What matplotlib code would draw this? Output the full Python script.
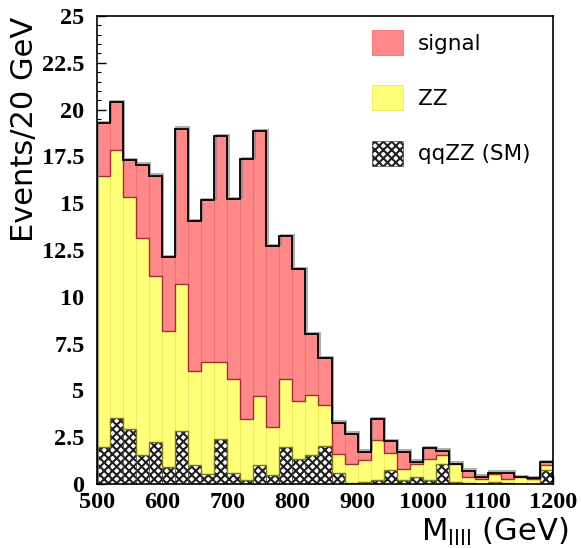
import numpy as np
import matplotlib
matplotlib.use("Agg")
import matplotlib.pyplot as plt
import matplotlib.patheffects as pe
from matplotlib.ticker import MultipleLocator, FormatStrFormatter

# ---- data (20 GeV bins from 500 to 1200 GeV) ----
bin_edges = list(range(500, 1201, 20))
qqzz = [1.96, 3.51, 2.92, 1.53, 2.23, 0.89, 2.81, 1.00, 0.52, 2.39,
        0.57, 0.21, 1.03, 0.46, 1.96, 1.35, 1.57, 2.03, 0.61, 0.05,
        0.13, 0.20, 0.73, 0.20, 0.37, 0.20, 1.09, 0.13, 0.05, 0.00,
        0.12, 0.05, 0.00, 0.00, 0.76]
zz = [14.49, 14.33, 12.39, 11.63, 8.86, 7.28, 7.86, 5.04, 6.02, 4.15,
      5.06, 3.28, 3.69, 2.57, 3.65, 3.10, 3.17, 2.19, 1.01, 1.04,
      1.15, 2.13, 0.94, 0.58, 0.72, 1.12, 0.46, 0.92, 0.34, 0.25,
      0.43, 0.22, 0.36, 0.27, 0.25]
signal = [2.82, 2.55, 2.00, 3.90, 5.38, 3.94, 8.31, 7.99, 8.63, 12.03,
          9.59, 13.85, 14.14, 9.67, 7.62, 7.02, 3.25, 2.49, 1.66, 1.60,
          0.45, 1.14, 0.64, 0.95, 0.10, 0.59, 0.23, 0.04, 0.32, 0.14,
          0.06, 0.34, 0.01, 0.05, 0.15]
labels = ["signal", "ZZ", "qqZZ (SM)"]
x_ticks = [500, 600, 700, 800, 900, 1000, 1100, 1200]
y_ticks = [0, 2.5, 5, 7.5, 10, 12.5, 15, 17.5, 20, 22.5, 25]

edges = np.array(bin_edges, dtype=float)
left = edges[:-1]
width = np.diff(edges)
q = np.array(qqzz)
z = np.array(zz)
s = np.array(signal)

plt.rcParams['hatch.linewidth'] = 1.5
W, H = 582, 548
fig = plt.figure(figsize=(W / 100, H / 100), dpi=100)
ax = fig.add_axes([97 / W, 1 - 484 / H, (553 - 97) / W, (484 - 16) / H])

b_q = ax.bar(left, q, width=width, align='edge', facecolor='white',
             edgecolor='#202020', hatch='xxxx', linewidth=0.4, label=labels[2], zorder=2)
b_z = ax.bar(left, z, width=width, align='edge', bottom=q, facecolor='#ffff7a',
             edgecolor='#ecec55', linewidth=0.6, label=labels[1], zorder=2)
b_s = ax.bar(left, s, width=width, align='edge', bottom=q + z, facecolor='#ff8888',
             edgecolor='#ec7070', linewidth=0.6, label=labels[0], zorder=2)

# step outlines
ax.stairs(q, edges, color='#7a7a20', linewidth=1.0, zorder=3)
ax.stairs(q + z, edges, color='#a03030', linewidth=1.0, zorder=3)
ax.stairs(q + z + s, edges, color='black', linewidth=1.3, zorder=4,
          path_effects=[pe.SimpleLineShadow(offset=(0.9, 0.9), shadow_color='gray', alpha=0.7),
                        pe.Normal()])

ax.set_xlim(500, 1200)
ax.set_ylim(0, 25)
ax.set_xticks(x_ticks)
ax.set_yticks(y_ticks)
ax.xaxis.set_minor_locator(MultipleLocator(20))
ax.yaxis.set_minor_locator(MultipleLocator(0.5))
ax.yaxis.set_major_formatter(FormatStrFormatter('%g'))

for lab in ax.get_xticklabels() + ax.get_yticklabels():
    lab.set_fontfamily('Liberation Serif')
    lab.set_fontweight('bold')
    lab.set_fontsize(17.5)

ax.tick_params(axis='both', which='major', direction='in', length=6.5, width=1.0,
               top=False, right=False)
ax.tick_params(axis='both', which='minor', direction='in', length=3.2, width=0.8,
               top=False, right=False)
ax.tick_params(axis='y', which='major', pad=9)
ax.tick_params(axis='x', which='major', pad=6)
for sp in ax.spines.values():
    sp.set_linewidth(1.2)
    sp.set_zorder(5)

leg = ax.legend(handles=[b_s, b_z, b_q], labels=labels, loc='upper left',
                bbox_to_anchor=(372 / W, 1 - 30 / H), bbox_transform=fig.transFigure,
                frameon=False, borderpad=0, borderaxespad=0,
                prop=dict(family='DejaVu Sans', size=15.5),
                handlelength=1.44, handleheight=1.4, handletextpad=0.7,
                labelspacing=1.42)

fig.text(25 / W, 1 - 17 / H, 'Events/20 GeV', rotation=90, ha='center', va='top',
         fontsize=22, family='DejaVu Sans')
fig.text(568 / W, 1 - 541 / H, r'M$_{\mathregular{llll}}$ (GeV)', ha='right',
         va='baseline', fontsize=22, family='DejaVu Sans')

fig.savefig('out.png', dpi=100)
